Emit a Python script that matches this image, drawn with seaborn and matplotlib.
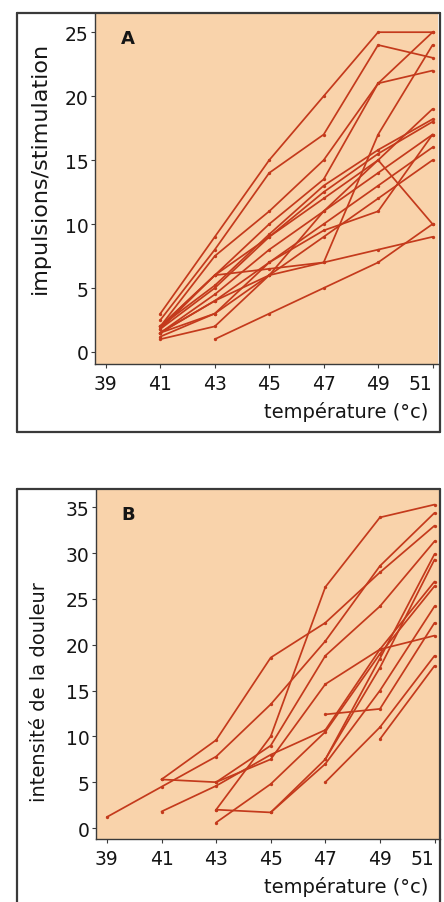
import numpy as np
import pandas as pd
import matplotlib
matplotlib.use("Agg")
import matplotlib.pyplot as plt
from matplotlib.lines import Line2D
import seaborn as sns

# ---------------- data ----------------
temps_a = [41, 43, 45, 47, 49, 51]
nan = np.nan
a_series = {
    "a1":  [3.0, 9.0, 15.0, 20.0, 25.0, 25.0],
    "a2":  [2.5, 8.0, 14.0, 17.0, 24.0, 23.0],
    "a3":  [2.0, 7.5, 11.0, 15.0, 21.0, 22.0],
    "a4":  [1.8, 6.0, 10.0, 13.5, 21.0, 25.0],
    "a5":  [2.0, 6.0, 6.5, 7.0, 17.0, 24.0],
    "a6":  [2.0, 6.0, 9.0, 12.0, 15.0, 10.0],
    "a7":  [1.8, 5.0, 9.0, 12.5, 15.5, 18.0],
    "a8":  [2.0, 5.2, 9.2, 13.0, 15.8, 18.2],
    "a9":  [1.5, 4.5, 8.0, 11.0, 14.0, 17.0],
    "a10": [1.5, 4.0, 7.0, 10.0, 13.0, 16.0],
    "a11": [1.2, 3.0, 7.0, 9.5, 11.0, 17.0],
    "a12": [1.0, 2.0, 6.0, 11.0, 15.0, 19.0],
    "a13": [1.5, 4.0, 6.0, 7.0, 8.0, 9.0],
    "a14": [nan, 1.0, 3.0, 5.0, 7.0, 10.0],
    "a15": [1.5, 3.0, 6.0, 9.0, 12.0, 15.0],
}

temps_b = [39, 41, 43, 45, 47, 49, 51]
b_series = {
    "b1":  [1.2, 4.5, 7.8, 13.5, 20.4, 28.6, 34.4],
    "b2":  [nan, 5.3, 9.6, 18.6, 22.4, 27.9, 33.0],
    "b3":  [nan, nan, 2.0, 10.0, 26.3, 33.9, 35.3],
    "b4":  [nan, 5.3, 5.0, 7.5, 15.7, 19.5, 21.0],
    "b5":  [nan, 1.8, 4.6, 8.0, 10.7, 19.5, 26.9],
    "b6":  [nan, nan, 0.6, 4.8, 10.5, 19.0, 26.4],
    "b7":  [nan, nan, 2.0, 1.7, 7.5, 18.5, 29.9],
    "b8":  [nan, nan, nan, nan, 12.4, 13.0, 22.4],
    "b9":  [nan, nan, nan, nan, 5.0, 11.0, 18.8],
    "b10": [nan, nan, nan, nan, nan, 9.7, 17.7],
    "b11": [nan, nan, 5.0, 9.0, 18.8, 24.2, 31.3],
    "b12": [nan, nan, nan, 1.7, 7.0, 15.0, 24.2],
    "b13": [nan, nan, nan, nan, 7.5, 17.5, 29.3],
}

yticks_a = [0, 5, 10, 15, 20, 25]
yticks_b = [0, 5, 10, 15, 20, 25, 30, 35]
xticks = [39, 41, 43, 45, 47, 49, 51]
ylabel_a = "impulsions/stimulation"
ylabel_b = "intensité de la douleur"
xlabel = "température (°c)"


def to_long(temps, series):
    rows = []
    for name, vals in series.items():
        for t, v in zip(temps, vals):
            if not np.isnan(v):
                rows.append({"temp": t, "value": v, "subject": name})
    return pd.DataFrame(rows)


df_a = to_long(temps_a, a_series)
df_b = to_long(temps_b, b_series)

# ---------------- style ----------------
sns.set_theme(style="white")
plt.rcParams["font.family"] = ["DejaVu Sans"]

W, H = 444, 903
fig = plt.figure(figsize=(W / 100, H / 100), dpi=100)
fig.patch.set_facecolor("white")

BG = "#F9D3AB"
LINE = "#C43A1C"
FRAME = "#3a3a3a"
TXT = "#151515"


def px_axes(l, t, r, b):
    return fig.add_axes([l / W, 1 - b / H, (r - l) / W, (b - t) / H])


def frame(l, t, r, b, bottom=True):
    kw = dict(color=FRAME, lw=1.6, transform=fig.transFigure, clip_on=False)
    fig.add_artist(Line2D([l / W, l / W], [1 - t / H, 1 - b / H], **kw))
    fig.add_artist(Line2D([l / W, r / W], [1 - t / H, 1 - t / H], **kw))
    fig.add_artist(Line2D([r / W, r / W], [1 - t / H, 1 - b / H], **kw))
    if bottom:
        fig.add_artist(Line2D([l / W, r / W], [1 - b / H, 1 - b / H], **kw))


def style_axes(ax, ylim, yticks, letter):
    ax.set_facecolor(BG)
    ax.set_xlim(38.6, 51.2)
    ax.set_ylim(*ylim)
    ax.set_xticks(xticks)
    ax.set_xticklabels([str(t) for t in xticks])
    ax.set_yticks(yticks)
    ax.set_xlabel("")
    ax.set_ylabel("")
    for s in ["top", "right"]:
        ax.spines[s].set_visible(False)
    for s in ["left", "bottom"]:
        ax.spines[s].set_visible(True)
        ax.spines[s].set_color(FRAME)
        ax.spines[s].set_linewidth(1.0)
    ax.tick_params(axis="both", which="major", direction="out", length=3,
                   width=0.8, color=FRAME, labelsize=13.5, labelcolor=TXT,
                   left=True, bottom=True, pad=1.5)
    ax.tick_params(axis="x", pad=4)
    # last x label sits left of its tick, as in the print
    ax.get_xticklabels()[-1].set_horizontalalignment("right")
    ax.text(0.075, 0.955, letter, transform=ax.transAxes, fontsize=13,
            fontweight="bold", color=TXT, ha="left", va="top")
    if ax.get_legend():
        ax.get_legend().remove()


# Panel A
ax_a = px_axes(95, 14, 438, 365)
sns.lineplot(data=df_a, x="temp", y="value", units="subject", estimator=None,
             color=LINE, lw=1.25, marker="o", markersize=2.4, markeredgewidth=0,
             sort=True, ax=ax_a)
style_axes(ax_a, (-0.94, 26.5), yticks_a, "A")
frame(17, 14, 440, 433)
fig.text(40 / W, 1 - 168 / H, ylabel_a, rotation=90, ha="center", va="center",
         fontsize=16, color=TXT)
fig.text(428 / W, 1 - 412 / H, xlabel, ha="right", va="center",
         fontsize=14, color=TXT)

# Panel B
ax_b = px_axes(96, 490, 440, 840)
sns.lineplot(data=df_b, x="temp", y="value", units="subject", estimator=None,
             color=LINE, lw=1.25, marker="o", markersize=2.4, markeredgewidth=0,
             sort=True, ax=ax_b)
style_axes(ax_b, (-1.2, 37.0), yticks_b, "B")
frame(17, 490, 440, 910, bottom=False)
fig.text(40 / W, 1 - 692 / H, ylabel_b, rotation=90, ha="center", va="center",
         fontsize=14, color=TXT)
fig.text(428 / W, 1 - 887 / H, xlabel, ha="right", va="center",
         fontsize=14, color=TXT)

fig.savefig("out.png", dpi=100, facecolor="white")
